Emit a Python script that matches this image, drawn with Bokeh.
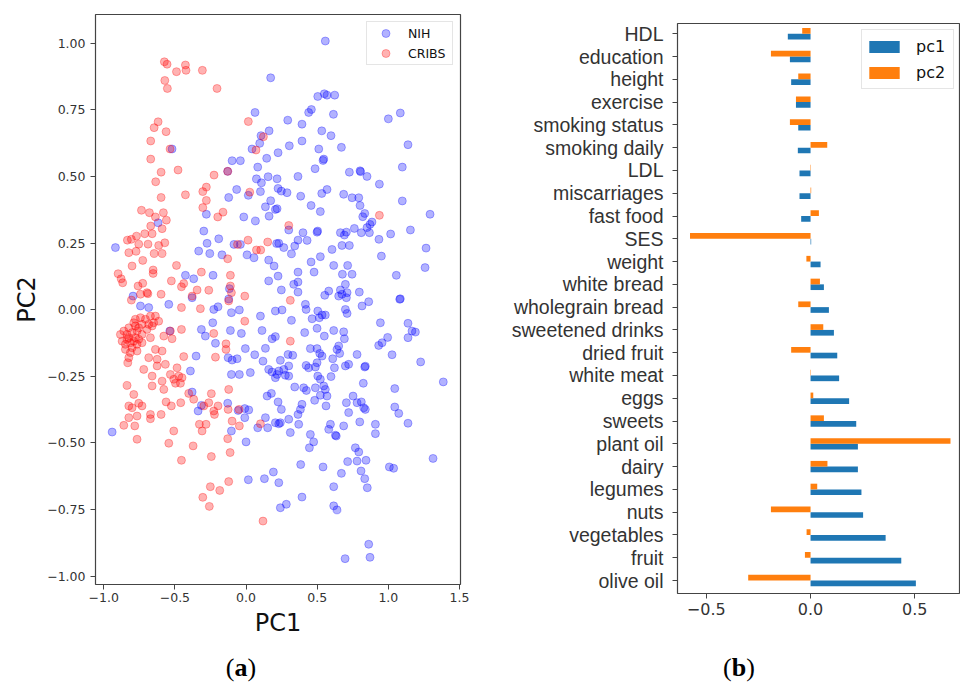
from bokeh.plotting import figure
from bokeh.models import Range1d, FixedTicker, ColumnDataSource, Div
from bokeh.layouts import row, column
from bokeh.transform import dodge
from bokeh.embed import file_html
from bokeh.resources import INLINE

# ---------------- data: panel (a) ----------------
cribs_points = [
    (-0.574, 0.930), (-0.555, 0.921), (-0.489, 0.893), (-0.426, 0.918), (-0.422, 0.898), (-0.307, 0.898),
    (-0.571, 0.860), (-0.553, 0.830), (-0.204, 0.830), (-0.618, 0.705), (-0.646, 0.683), (-0.562, 0.668),
    (-0.670, 0.633), (-0.534, 0.603), (-0.670, 0.565), (0.016, 0.706), (0.122, 0.649), (0.070, 0.599),
    (-0.597, 0.516), (-0.478, 0.524), (-0.635, 0.480), (-0.597, 0.421), (-0.426, 0.431), (-0.225, 0.505),
    (-0.129, 0.519), (-0.279, 0.460), (-0.304, 0.443), (-0.279, 0.410), (-0.304, 0.383), (0.026, 0.441),
    (-0.735, 0.373), (-0.679, 0.364), (-0.581, 0.364), (-0.560, 0.336), (-0.637, 0.348), (-0.670, 0.314),
    (-0.590, 0.304), (-0.712, 0.285), (-0.660, 0.285), (-0.770, 0.276), (-0.834, 0.261), (-0.806, 0.264),
    (-0.754, 0.246), (-0.689, 0.246), (-0.614, 0.241), (-0.571, 0.251), (-0.824, 0.214), (-0.773, 0.219),
    (-0.646, 0.211), (-0.590, 0.211), (-0.726, 0.185), (-0.801, 0.164), (-0.653, 0.149), (-0.489, 0.166),
    (-0.899, 0.135), (-0.878, 0.116), (-0.867, 0.101), (-0.653, 0.136), (-0.525, 0.108), (-0.438, 0.098),
    (-0.454, 0.086), (-0.314, 0.141), (-0.344, 0.074), (-0.379, 0.051), (-0.262, 0.073), (-0.110, 0.129),
    (-0.110, 0.089), (-0.103, 0.064), (-0.009, 0.051), (-0.759, 0.089), (-0.726, 0.099), (-0.696, 0.064),
    (-0.690, 0.060), (-0.742, 0.058), (-0.597, 0.058), (-0.806, 0.036), (-0.162, 0.366), (-0.199, 0.348),
    (-0.060, 0.245), (0.014, 0.261), (0.073, 0.224), (0.103, 0.224), (0.152, 0.254), (-0.129, 0.191),
    (0.937, 0.354), (0.300, 0.316), (0.311, 0.035),
    (-0.454, 0.008), (-0.321, 0.004), (-0.778, -0.036), (-0.742, -0.030), (-0.707, -0.036), (-0.672, -0.024),
    (-0.637, -0.024), (-0.649, -0.049), (-0.684, -0.055), (-0.731, -0.055), (-0.778, -0.061), (-0.824, -0.068),
    (-0.859, -0.080), (-0.883, -0.093), (-0.836, -0.093), (-0.801, -0.086), (-0.766, -0.080), (-0.731, -0.093),
    (-0.778, -0.105), (-0.836, -0.111), (-0.871, -0.118), (-0.813, -0.124), (-0.766, -0.130), (-0.731, -0.124),
    (-0.801, -0.143), (-0.848, -0.149), (-0.813, -0.161), (-0.766, -0.155), (-0.824, -0.180), (-0.831, -0.199),
    (-0.614, -0.043), (-0.660, -0.061), (-0.696, -0.074), (-0.789, -0.049), (-0.754, -0.068), (-0.824, -0.105),
    (-0.754, -0.111), (-0.789, -0.118), (-0.848, -0.130),
    (-0.532, -0.080), (-0.578, -0.099), (-0.520, -0.109), (-0.454, -0.074), (-0.672, -0.105), (-0.637, -0.149),
    (-0.590, -0.155), (-0.684, -0.180), (-0.625, -0.186), (-0.567, -0.205), (-0.719, -0.224), (-0.625, -0.211),
    (-0.532, -0.243), (-0.485, -0.218), (-0.508, -0.261), (-0.473, -0.249), (-0.450, -0.255), (-0.496, -0.276),
    (-0.461, -0.276), (-0.438, -0.176), (-0.660, -0.249), (-0.660, -0.286), (-0.590, -0.268), (-0.578, -0.299),
    (-0.836, -0.284), (-0.789, -0.318), (-0.754, -0.351), (-0.801, -0.368), (-0.731, -0.361), (-0.824, -0.361),
    (-0.766, -0.399), (-0.824, -0.405), (-0.859, -0.434), (-0.782, -0.436), (-0.672, -0.393), (-0.672, -0.409),
    (-0.597, -0.393), (-0.562, -0.346), (-0.525, -0.361), (-0.459, -0.349), (-0.508, -0.455), (-0.403, -0.314),
    (-0.368, -0.336), (-0.244, -0.315), (-0.297, -0.361), (-0.262, -0.349), (-0.227, -0.380), (-0.222, -0.393),
    (-0.197, -0.361), (-0.328, -0.430), (-0.281, -0.430), (-0.309, -0.455), (-0.122, -0.299), (-0.098, -0.418),
    (-0.126, -0.374), (-0.049, -0.374), (-0.047, -0.436), (0.101, -0.428), (-0.766, -0.486), (-0.227, -0.089),
    (-0.215, -0.178), (-0.141, -0.128), (-0.141, -0.149), (-0.009, -0.043), (-0.122, 0.033),
    (0.311, -0.118),
    (-0.543, -0.501), (-0.372, -0.511), (-0.129, -0.484), (-0.454, -0.565), (-0.244, -0.551), (-0.112, -0.536),
    (-0.122, -0.645), (-0.251, -0.664), (-0.185, -0.678), (-0.304, -0.704), (-0.258, -0.738), (0.119, -0.793),
]

nih_points = [
    (0.173, 0.870), (0.063, 0.740), (0.162, 0.671), (0.105, 0.653), (0.096, 0.624), (0.042, 0.603),
    (0.225, 0.589), (0.145, 0.568), (-0.098, 0.559), (-0.040, 0.559), (-0.520, 0.603),
    (0.557, 1.008), (0.504, 0.800), (0.550, 0.810), (0.569, 0.805), (0.623, 0.805), (0.459, 0.751),
    (0.440, 0.740), (0.293, 0.711), (0.393, 0.696), (0.614, 0.733), (1.000, 0.716), (1.084, 0.738),
    (0.532, 0.671), (0.597, 0.653), (0.393, 0.633), (0.304, 0.615), (0.511, 0.603), (0.670, 0.609),
    (1.138, 0.619), (0.546, 0.565),
    (0.082, 0.535), (0.073, 0.491), (0.108, 0.476), (0.155, 0.499), (0.218, 0.491), (-0.129, 0.519),
    (-0.066, 0.451), (-0.122, 0.421), (0.016, 0.429), (0.101, 0.443), (0.173, 0.409), (0.136, 0.386),
    (0.206, 0.376), (0.162, 0.351), (-0.016, 0.348), (0.066, 0.333), (-0.279, 0.358), (-0.618, 0.326),
    (-0.297, 0.295), (-0.192, 0.266), (-0.274, 0.249), (-0.333, 0.220), (-0.255, 0.211), (-0.169, 0.206),
    (-0.085, 0.245), (-0.040, 0.245), (0.007, 0.206), (0.056, 0.195), (0.215, 0.248), (0.159, 0.186),
    (0.197, 0.164), (-0.918, 0.233), (-0.426, 0.129), (-0.368, 0.116), (-0.232, 0.129), (-0.117, 0.079),
    (0.159, 0.108), (0.225, 0.126), (-0.794, 0.051), (-0.543, 0.020), (-0.742, 0.014),
    (0.541, 0.560), (0.485, 0.529), (0.365, 0.500), (0.726, 0.516), (0.801, 0.521), (0.805, 0.518),
    (0.850, 0.500), (1.098, 0.535), (0.937, 0.471), (0.225, 0.455), (0.248, 0.445), (0.288, 0.439),
    (0.384, 0.426), (0.569, 0.451), (0.532, 0.436), (0.686, 0.433), (0.745, 0.420), (0.792, 0.420),
    (0.218, 0.379), (0.457, 0.391), (0.522, 0.368), (0.801, 0.391), (1.098, 0.408), (0.834, 0.361),
    (0.820, 0.349), (1.293, 0.358), (0.871, 0.320), (0.885, 0.329), (0.850, 0.308), (0.867, 0.289),
    (0.810, 0.289), (0.761, 0.305), (0.300, 0.299), (0.400, 0.289), (0.499, 0.291), (0.503, 0.295),
    (0.663, 0.289), (0.691, 0.280), (0.705, 0.291), (0.934, 0.264), (1.016, 0.284), (1.155, 0.299),
    (0.230, 0.249), (0.265, 0.233), (0.342, 0.239), (0.365, 0.261), (0.429, 0.260), (0.319, 0.210),
    (0.674, 0.241), (0.726, 0.241), (0.604, 0.226), (0.951, 0.201), (1.265, 0.231), (0.522, 0.199),
    (0.457, 0.179), (0.616, 0.166), (0.714, 0.166), (0.365, 0.141), (0.478, 0.141), (0.677, 0.133),
    (0.745, 0.133), (1.056, 0.129), (1.258, 0.158), (0.335, 0.095), (0.365, 0.104), (0.698, 0.095),
    (0.248, 0.074), (0.365, 0.066), (0.581, 0.070), (0.553, 0.054), (0.663, 0.074), (0.674, 0.058),
    (0.710, 0.064), (0.796, 0.066), (1.084, 0.041),
    (-0.684, 0.008), (-0.536, -0.080), (-0.227, 0.001), (-0.197, 0.011), (-0.234, -0.049), (-0.103, -0.011),
    (-0.047, -0.001), (0.101, -0.024), (0.206, -0.005), (-0.314, -0.074), (-0.286, -0.099), (-0.215, -0.126),
    (-0.110, -0.078), (-0.033, -0.089), (0.112, -0.078), (0.183, -0.109), (0.206, -0.101), (-0.005, -0.146),
    (0.136, -0.145), (-0.351, -0.174), (-0.126, -0.180), (-0.098, -0.189), (-0.063, -0.184), (0.061, -0.169),
    (0.119, -0.193), (0.159, -0.224), (0.183, -0.234), (0.218, -0.243), (0.206, -0.255), (-0.391, -0.230),
    (-0.103, -0.243), (-0.047, -0.243), (0.030, -0.236), (0.148, -0.324), (0.178, -0.314), (0.225, -0.346),
    (-0.379, -0.309), (-0.314, -0.359), (-0.337, -0.380), (-0.129, -0.351), (-0.056, -0.378), (-0.009, -0.371),
    (0.019, -0.376), (-0.103, -0.455), (-0.009, -0.405), (0.082, -0.443), (0.136, -0.405), (0.152, -0.443),
    (0.206, -0.424), (0.230, -0.428), (-0.941, -0.459), (-0.379, 0.045), (-0.122, 0.040),
    (0.417, 0.020), (0.422, 0.001), (0.253, -0.001), (0.504, -0.005), (0.534, -0.020), (0.557, -0.020),
    (0.515, -0.030), (0.464, -0.034), (0.651, 0.051), (0.705, 0.045), (0.698, 0.001), (0.710, -0.014),
    (0.815, 0.014), (0.862, 0.030), (1.080, 0.039), (0.319, -0.040), (0.412, -0.086), (0.499, -0.070),
    (0.550, -0.099), (0.616, -0.078), (0.686, -0.083), (0.691, -0.109), (0.944, -0.049), (1.138, -0.051),
    (1.166, -0.080), (1.190, -0.084), (1.138, -0.105), (0.995, -0.104), (0.932, -0.134), (0.956, -0.124),
    (0.452, -0.146), (0.499, -0.146), (0.651, -0.136), (0.639, -0.149), (0.534, -0.174), (0.518, -0.164),
    (0.609, -0.184), (0.658, -0.164), (0.780, -0.168), (1.026, -0.169), (1.227, -0.196), (0.295, -0.168),
    (0.328, -0.171), (0.241, -0.190), (0.300, -0.211), (0.265, -0.224), (0.230, -0.230), (0.276, -0.246),
    (0.300, -0.249), (0.422, -0.209), (0.440, -0.218), (0.499, -0.199), (0.487, -0.215), (0.621, -0.218),
    (0.698, -0.211), (0.721, -0.205), (0.834, -0.215), (0.838, -0.212), (0.597, -0.251), (0.504, -0.249),
    (0.522, -0.261), (0.824, -0.276), (1.386, -0.271), (1.045, -0.296), (0.342, -0.290), (0.405, -0.293),
    (0.424, -0.303), (0.487, -0.293), (0.546, -0.286), (0.557, -0.299), (0.522, -0.321), (0.569, -0.324),
    (0.482, -0.340), (0.562, -0.361), (0.393, -0.355), (0.382, -0.374), (0.365, -0.393), (0.248, -0.374),
    (0.752, -0.324), (0.780, -0.349), (0.810, -0.346), (0.827, -0.368), (0.838, -0.374), (0.705, -0.349),
    (0.721, -0.386), (0.799, -0.421), (1.045, -0.365), (1.073, -0.389), (1.138, -0.426), (0.909, -0.430),
    (0.909, -0.465), (0.686, -0.436), (0.593, -0.430), (0.581, -0.449), (0.628, -0.471), (0.634, -0.474),
    (0.452, -0.468), (0.311, -0.461), (0.300, -0.411), (0.241, -0.424), (0.370, -0.430),
    (0.000, -0.496), (0.016, -0.638), (0.129, -0.634), (0.192, -0.609), (0.230, -0.649), (0.241, -0.743),
    (0.475, -0.496), (0.445, -0.518), (0.768, -0.518), (0.792, -0.534), (0.714, -0.570), (0.780, -0.568),
    (0.843, -0.565), (0.808, -0.605), (0.834, -0.634), (0.852, -0.668), (0.670, -0.614), (0.541, -0.590),
    (0.384, -0.581), (1.007, -0.590), (1.037, -0.595), (1.314, -0.558), (0.616, -0.664), (0.393, -0.703),
    (0.283, -0.730), (0.616, -0.736), (0.639, -0.751), (0.862, -0.880), (0.696, -0.934), (0.871, -0.929),
]

a_x_ticks = [-1.0, -0.5, 0.0, 0.5, 1.0, 1.5]
a_x_labels = ["\u22121.0", "\u22120.5", "0.0", "0.5", "1.0", "1.5"]
a_y_ticks = [-1.0, -0.75, -0.5, -0.25, 0.0, 0.25, 0.5, 0.75, 1.0]
a_y_labels = ["\u22121.00", "\u22120.75", "\u22120.50", "\u22120.25", "0.00", "0.25", "0.50", "0.75", "1.00"]

# ---------------- data: panel (b) ----------------
variables = ["HDL", "education", "height", "exercise", "smoking status", "smoking daily", "LDL",
             "miscarriages", "fast food", "SES", "weight", "white bread", "wholegrain bread",
             "sweetened drinks", "dried fruit", "white meat", "eggs", "sweets", "plant oil", "dairy",
             "legumes", "nuts", "vegetables", "fruit", "olive oil"]
pc1 = [-0.109, -0.099, -0.093, -0.070, -0.059, -0.061, -0.053, -0.053, -0.045, 0.003,
       0.048, 0.064, 0.088, 0.112, 0.128, 0.137, 0.185, 0.219, 0.227, 0.227,
       0.244, 0.252, 0.360, 0.435, 0.505]
pc2 = [-0.040, -0.190, -0.059, -0.070, -0.099, 0.080, 0.002, 0.003, 0.040, -0.578,
       -0.020, 0.045, -0.059, 0.061, -0.093, 0.002, 0.013, 0.064, 0.671, 0.081,
       0.032, -0.190, -0.019, -0.027, -0.299]
b_x_ticks = [-0.5, 0.0, 0.5]
b_x_labels = ["\u22120.5", "0.0", "0.5"]

FRAME = "#444444"
TICK_TXT = "#333333"

# ---------------- panel (a) ----------------
p1 = figure(width=480, height=650, x_range=Range1d(-1.058, 1.507), y_range=Range1d(-1.031, 1.1075),
            output_backend="svg", toolbar_location=None,
            min_border_left=95, min_border_right=20, min_border_top=14, min_border_bottom=66)
p1.xgrid.visible = False
p1.ygrid.visible = False
p1.outline_line_color = FRAME
p1.outline_line_width = 1.2

p1.scatter([p[0] for p in nih_points], [p[1] for p in nih_points], size=8,
           fill_color="blue", line_color="blue", fill_alpha=0.3, line_alpha=0.3, legend_label="NIH")
p1.scatter([p[0] for p in cribs_points], [p[1] for p in cribs_points], size=8,
           fill_color="red", line_color="red", fill_alpha=0.3, line_alpha=0.3, legend_label="CRIBS")

for ax, ticks, labels in ((p1.xaxis[0], a_x_ticks, a_x_labels), (p1.yaxis[0], a_y_ticks, a_y_labels)):
    ax.ticker = FixedTicker(ticks=ticks)
    ax.major_label_overrides = {t: l for t, l in zip(ticks, labels)}
    ax.axis_line_color = None
    ax.major_tick_line_color = FRAME
    ax.major_tick_out = 5
    ax.major_tick_in = 0
    ax.minor_tick_line_color = None
    ax.major_label_text_font = "DejaVu Sans"
    ax.major_label_text_font_size = "12.5px"
    ax.major_label_text_color = TICK_TXT
    ax.axis_label_text_font = "DejaVu Sans"
    ax.axis_label_text_font_size = "24px"
    ax.axis_label_text_font_style = "normal"
    ax.axis_label_text_color = "#111111"

p1.xaxis.axis_label = "PC1"
p1.xaxis.major_label_standoff = 3
p1.xaxis.axis_label_standoff = 4
p1.yaxis.axis_label = "PC2"
p1.yaxis.major_label_standoff = 5
p1.yaxis.axis_label_standoff = 3

lg1 = p1.legend[0]
lg1.location = "top_right"
lg1.margin = 7
lg1.padding = 1
lg1.spacing = 0
lg1.glyph_width = 35
lg1.glyph_height = 20
lg1.label_height = 20
lg1.label_width = 43
lg1.label_standoff = 5
lg1.label_text_font = "DejaVu Sans"
lg1.label_text_font_size = "12.5px"
lg1.label_text_color = "#111111"
lg1.border_line_color = "#cccccc"
lg1.background_fill_alpha = 0.85

# ---------------- panel (b) ----------------
n = len(variables)
positions = [n - 1 - i for i in range(n)]
src = ColumnDataSource(dict(pos=positions, pc1=pc1, pc2=pc2, var=variables))

p2 = figure(width=480, height=650, x_range=Range1d(-0.638, 0.719), y_range=Range1d(-0.57, 24.45),
            output_backend="svg", toolbar_location=None,
            min_border_left=197, min_border_right=0, min_border_top=23, min_border_bottom=57)
p2.xgrid.visible = False
p2.ygrid.visible = False
p2.outline_line_color = FRAME
p2.outline_line_width = 1.2

p2.hbar(y=dodge("pos", -0.125, range=p2.y_range), left=0, right="pc1", height=0.25, source=src,
        fill_color="#1f77b4", line_color=None, legend_label="pc1")
p2.hbar(y=dodge("pos", 0.125, range=p2.y_range), left=0, right="pc2", height=0.25, source=src,
        fill_color="#ff7f0e", line_color=None, legend_label="pc2")

for ax in (p2.xaxis[0], p2.yaxis[0]):
    ax.axis_line_color = None
    ax.major_tick_line_color = FRAME
    ax.major_tick_out = 5
    ax.major_tick_in = 0
    ax.minor_tick_line_color = None
    ax.major_label_text_color = TICK_TXT

p2.xaxis.ticker = FixedTicker(ticks=b_x_ticks)
p2.xaxis.major_label_overrides = {t: l for t, l in zip(b_x_ticks, b_x_labels)}
p2.xaxis.major_label_text_font = "DejaVu Sans"
p2.xaxis.major_label_text_font_size = "16px"
p2.xaxis.major_label_standoff = 4

p2.yaxis.ticker = FixedTicker(ticks=positions)
p2.yaxis.major_label_overrides = {p: v for p, v in zip(positions, variables)}
p2.yaxis.major_label_text_font = "Liberation Sans"
p2.yaxis.major_label_text_font_size = "19.5px"
p2.yaxis.major_label_standoff = 9

lg2 = p2.legend[0]
lg2.location = "top_right"
lg2.margin = 6
lg2.padding = 3
lg2.spacing = 0
lg2.glyph_width = 38
lg2.glyph_height = 15
lg2.label_height = 26
lg2.label_width = 34
lg2.label_standoff = 13
lg2.label_text_font = "DejaVu Sans"
lg2.label_text_font_size = "16px"
lg2.label_text_color = "#111111"
lg2.border_line_color = "#cccccc"
lg2.background_fill_alpha = 0.85

# ---------------- captions ----------------
CAP_STYLE = ("font-family:'Liberation Serif',serif;font-size:26px;line-height:30px;"
             "color:#000000;padding-top:3px;white-space:nowrap;")
cap_a = Div(text='<div style="' + CAP_STYLE + 'width:480px;text-align:center;padding-left:2px;">(<b>a</b>)</div>',
            width=480, height=38, margin=(0, 0, 0, 0))
cap_b = Div(text='<div style="' + CAP_STYLE + 'text-align:left;padding-left:243px;">(<b>b</b>)</div>',
            width=480, height=38, margin=(0, 0, 0, 0))

layout = row(column(p1, cap_a), column(p2, cap_b))
open("out.html", "w").write(file_html(layout, INLINE))
